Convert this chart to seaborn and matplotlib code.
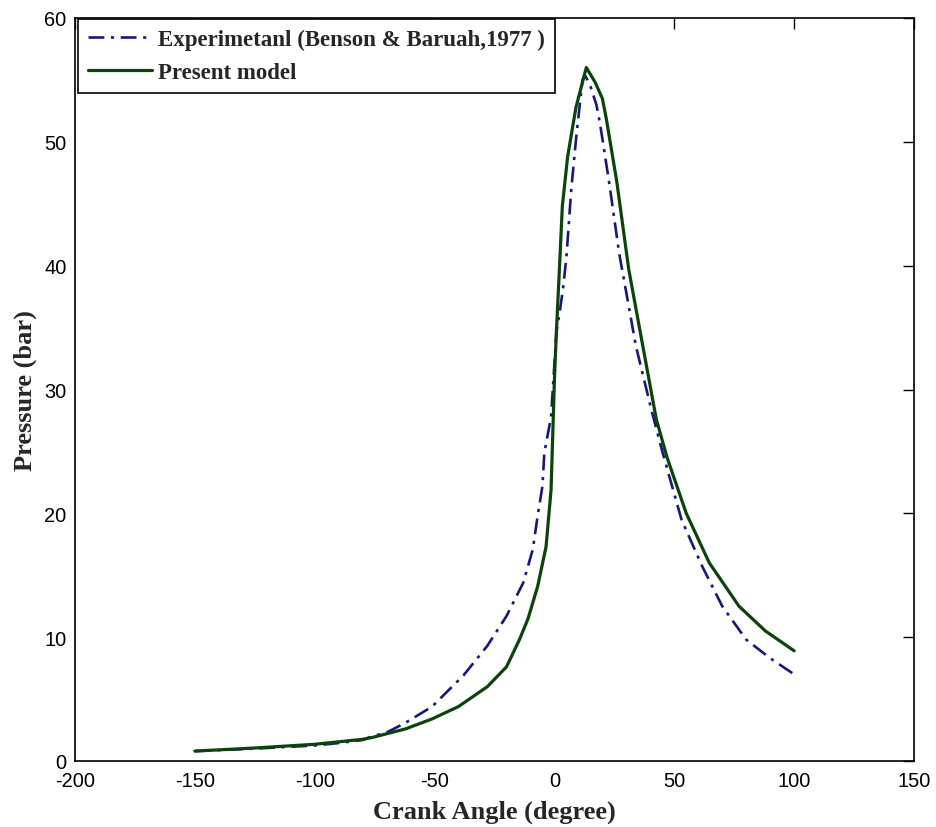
import numpy as np
import pandas as pd
import matplotlib
matplotlib.use("Agg")
import matplotlib.pyplot as plt
import seaborn as sns

# Experimental (Benson & Baruah, 1977)
exp_angle = [-150, -125, -100, -90, -80, -76, -70, -62, -51, -38, -28, -20, -13, -9, -7, -5,
             -4.2, -1.4, 0.8, 2, 3.5, 5, 7, 9, 11.7, 13, 15, 17.5, 19, 23, 27, 30, 34,
             40.4, 45, 53, 61.7, 70, 80, 90, 100]
exp_pressure = [0.8, 1.0, 1.25, 1.45, 1.7, 2.0, 2.3, 3.1, 4.4, 6.9, 9.3, 11.7, 14.4, 17.1, 19.8, 22.2,
                24.9, 27.8, 34.6, 36.0, 38.0, 40.7, 46.1, 50.2, 55.0, 55.3, 54.5, 53.0, 51.5, 46.5, 41.0, 37.8, 33.5,
                28.4, 25.0, 19.5, 15.7, 12.5, 9.8, 8.3, 7.0]

# Present model
mod_angle = [-150, -125, -100, -90, -80, -76, -62, -51, -40, -28, -20, -14.6, -11, -7, -3.5, -1.4,
             0, 0.8, 2, 3.3, 5.5, 9, 13.3, 17, 20, 21.7, 26, 31, 36.5, 42.5, 47, 55,
             64.6, 77, 88, 100]
mod_pressure = [0.8, 1.05, 1.35, 1.55, 1.75, 1.9, 2.6, 3.4, 4.4, 6.0, 7.6, 9.8, 11.5, 14.1, 17.3, 21.9,
                30.8, 34.6, 39.4, 44.8, 48.8, 52.8, 56.0, 54.8, 53.5, 51.8, 46.8, 39.7, 33.9, 27.6, 24.5, 20.0,
                16.0, 12.5, 10.5, 8.9]

x_ticks = [-200, -150, -100, -50, 0, 50, 100, 150]
y_ticks = [0, 10, 20, 30, 40, 50, 60]

sns.set_style("white")
plt.rcParams['font.family'] = ['Liberation Sans', 'DejaVu Sans']
plt.rcParams['axes.unicode_minus'] = False

fig = plt.figure(figsize=(9.36, 8.28), dpi=100)
ax = fig.add_axes([75/936, 1 - 762/828, (914 - 75)/936, (762 - 19)/828])

df_exp = pd.DataFrame({"angle": exp_angle, "pressure": exp_pressure})
df_mod = pd.DataFrame({"angle": mod_angle, "pressure": mod_pressure})

sns.lineplot(data=df_exp, x="angle", y="pressure", ax=ax, color="#18187c", lw=1.9,
             label="Experimetanl (Benson & Baruah,1977 )", sort=False)
ax.lines[-1].set_linestyle((0, (6, 2.5, 1.2, 2.5)))
sns.lineplot(data=df_mod, x="angle", y="pressure", ax=ax, color="#0a440a", lw=2.3,
             label="Present model", sort=False)

ax.set_xlim(-200, 150)
ax.set_ylim(0, 60)
ax.set_xticks(x_ticks)
ax.set_yticks(y_ticks)
ax.tick_params(direction="in", length=8, width=1, top=True, right=True,
               labelsize=14.4, colors="black")
ax.tick_params(axis="x", pad=7)
ax.tick_params(axis="y", pad=6)
for s in ax.spines.values():
    s.set_visible(True)
    s.set_color("black")
    s.set_linewidth(1.2)

ax.set_xlabel("Crank Angle (degree)", fontfamily="Liberation Serif", fontweight="bold",
              fontsize=19, labelpad=7)
ax.set_ylabel("Pressure (bar)", fontfamily="Liberation Serif", fontweight="bold",
              fontsize=19)
ax.yaxis.set_label_coords(-(75 - 37) / 839, 0.5)

leg = ax.legend(loc="upper left", bbox_to_anchor=(0.003, 0.999), borderaxespad=0,
                frameon=True, fancybox=False,
                edgecolor="black", handlelength=2.8, handletextpad=0.25,
                prop={"family": "Liberation Serif", "weight": "bold", "size": 16.5},
                borderpad=0.45, labelspacing=0.5)
leg.get_frame().set_linewidth(1.2)
leg.get_frame().set_alpha(1)

fig.savefig("out.png", dpi=100)
